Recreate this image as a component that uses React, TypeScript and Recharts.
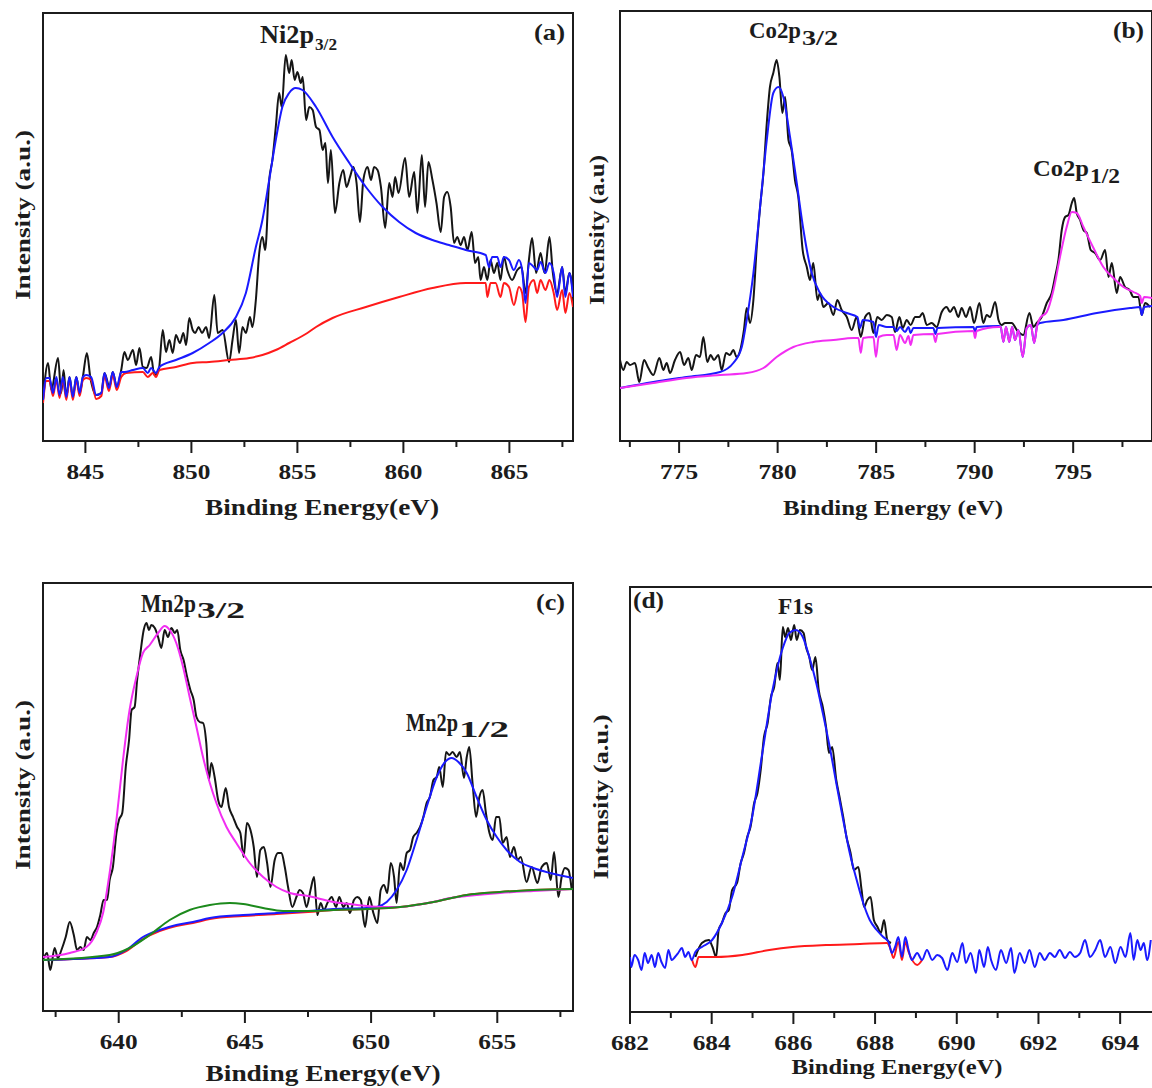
import { LineChart, Line, XAxis, YAxis, ReferenceArea } from "recharts";

// ---- (a) Ni 2p ----
const niRawE = [843.0, 843.24, 843.39, 843.71, 843.86, 843.97, 844.1, 844.25, 844.41, 844.57, 844.73, 844.88, 845.07, 845.23, 845.51, 845.75, 845.9, 846.14, 846.29, 846.48, 846.69, 846.84, 847.0, 847.24, 847.39, 847.55, 847.71, 847.89, 848.1, 848.25, 848.46, 848.65, 848.8, 848.96, 849.12, 849.27, 849.46, 849.62, 849.75, 849.9, 850.06, 850.18, 850.34, 850.5, 850.69, 850.84, 851.08, 851.24, 851.47, 851.78, 851.94, 852.1, 852.25, 852.41, 852.57, 852.76, 852.88, 853.04, 853.2, 853.35, 853.48, 853.67, 853.82, 853.98, 854.14, 854.26, 854.45, 854.61, 854.73, 854.87, 855.0, 855.16, 855.25, 855.41, 855.56, 855.72, 855.88, 856.04, 856.19, 856.32, 856.44, 856.58, 856.77, 856.98, 857.16, 857.32, 857.48, 857.64, 857.79, 857.95, 858.11, 858.31, 858.47, 858.62, 858.78, 858.94, 859.14, 859.33, 859.49, 859.61, 859.77, 860.08, 860.27, 860.51, 860.66, 860.87, 861.02, 861.18, 861.37, 861.56, 861.76, 861.92, 862.07, 862.23, 862.39, 862.54, 862.7, 862.86, 863.02, 863.22, 863.38, 863.53, 863.64, 863.8, 863.96, 864.11, 864.27, 864.43, 864.58, 864.74, 864.9, 865.13, 865.37, 865.57, 865.76, 865.92, 866.07, 866.26, 866.47, 866.66, 866.89, 867.05, 867.25, 867.49, 867.64, 867.83, 868.0];
const niRawI = [41, 78, 51, 83, 48, 71, 44, 64, 44, 64, 48, 64, 88, 64, 46, 48, 68, 54, 69, 54, 71, 89, 81, 91, 76, 93, 74, 73, 84, 66, 71, 111, 89, 101, 88, 106, 98, 108, 96, 123, 111, 108, 114, 108, 114, 103, 146, 108, 111, 79, 101, 121, 88, 114, 108, 124, 114, 141, 188, 204, 191, 261, 281, 314, 348, 334, 386, 368, 381, 361, 369, 358, 364, 321, 334, 331, 314, 311, 291, 298, 258, 291, 228, 258, 271, 254, 264, 274, 258, 219, 261, 274, 261, 274, 271, 254, 213, 258, 244, 264, 248, 283, 244, 269, 228, 286, 234, 279, 261, 238, 209, 244, 249, 234, 198, 204, 196, 204, 191, 209, 178, 184, 161, 174, 161, 181, 168, 178, 161, 184, 171, 161, 171, 174, 148, 181, 203, 168, 188, 168, 204, 168, 148, 174, 148, 168, 148];

const niFitE = [843.0, 843.16, 843.31, 843.47, 843.63, 843.78, 843.94, 844.1, 844.25, 844.41, 844.57, 844.73, 844.88, 845.04, 845.27, 845.51, 845.75, 845.9, 846.11, 846.29, 846.48, 846.69, 846.84, 847.24, 847.71, 847.94, 848.1, 848.33, 848.49, 849.27, 850.06, 850.84, 851.47, 852.1, 852.57, 853.04, 853.35, 853.67, 853.98, 854.29, 854.61, 854.92, 855.24, 855.88, 856.66, 857.45, 858.23, 859.02, 859.8, 860.58, 861.37, 862.15, 862.94, 863.88, 864.04, 864.19, 864.43, 864.58, 864.74, 864.98, 865.21, 865.45, 865.6, 865.76, 865.92, 866.15, 866.31, 866.47, 866.7, 866.89, 867.09, 867.25, 867.49, 867.64, 867.83, 868.0];
const niFitI = [41, 63, 63, 48, 64, 46, 64, 44, 64, 44, 64, 48, 64, 66, 64, 46, 48, 68, 53, 69, 54, 69, 69, 71, 73, 68, 73, 68, 74, 81, 88, 98, 108, 124, 148, 194, 221, 261, 301, 334, 348, 353, 351, 334, 304, 278, 254, 234, 219, 208, 201, 196, 191, 186, 174, 184, 184, 174, 184, 181, 171, 181, 171, 138, 178, 174, 171, 179, 168, 178, 168, 144, 174, 144, 168, 144];

const niBgE = [843.0, 843.16, 843.31, 843.47, 843.63, 843.78, 843.94, 844.1, 844.25, 844.41, 844.57, 844.73, 844.88, 845.04, 845.27, 845.51, 845.75, 845.9, 846.11, 846.29, 846.48, 846.69, 846.92, 847.71, 847.94, 848.18, 848.33, 848.49, 849.27, 850.06, 850.84, 851.78, 852.73, 853.35, 853.98, 854.61, 855.47, 855.88, 856.66, 858.23, 859.8, 861.37, 862.94, 863.88, 863.96, 864.11, 864.35, 864.58, 864.74, 864.98, 865.21, 865.45, 865.6, 865.76, 865.92, 866.15, 866.31, 866.47, 866.7, 866.89, 867.09, 867.25, 867.49, 867.64, 867.83, 868.0];
const niBgI = [38, 60, 60, 45, 61, 43, 61, 41, 61, 41, 61, 45, 61, 63, 61, 42, 45, 65, 50, 66, 51, 64, 68, 69, 64, 68, 64, 71, 74, 78, 79, 81, 83, 86, 91, 98, 108, 114, 123, 134, 144, 153, 158, 158, 144, 158, 158, 144, 158, 154, 136, 154, 148, 119, 154, 161, 148, 161, 151, 161, 148, 131, 151, 128, 148, 134];

// ---- (b) Co 2p ----
const coRawE = [772.0, 772.17, 772.34, 772.51, 772.76, 772.98, 773.22, 773.44, 773.69, 774.0, 774.2, 774.37, 774.54, 774.79, 775.05, 775.25, 775.47, 775.64, 775.86, 776.06, 776.23, 776.43, 776.6, 776.77, 776.99, 777.16, 777.38, 777.58, 777.75, 777.92, 778.13, 778.29, 778.43, 778.6, 778.77, 778.94, 779.11, 779.28, 779.45, 779.61, 779.78, 779.95, 780.09, 780.24, 780.38, 780.55, 780.71, 780.88, 781.05, 781.27, 781.48, 781.64, 781.81, 782.02, 782.15, 782.32, 782.58, 782.83, 783.03, 783.25, 783.51, 783.76, 784.01, 784.22, 784.44, 784.66, 784.86, 785.06, 785.28, 785.54, 785.79, 785.96, 786.18, 786.35, 786.55, 786.75, 786.98, 787.19, 787.36, 787.57, 787.82, 788.07, 788.33, 788.58, 788.75, 788.95, 789.17, 789.34, 789.56, 789.77, 789.97, 790.24, 790.44, 790.61, 790.78, 791.04, 791.21, 791.37, 791.54, 791.88, 792.14, 792.47, 792.78, 792.98, 793.15, 793.4, 793.66, 793.91, 794.08, 794.25, 794.42, 794.59, 794.76, 794.93, 795.05, 795.18, 795.35, 795.52, 795.69, 795.89, 796.11, 796.37, 796.62, 796.79, 796.96, 797.21, 797.38, 797.63, 797.86, 798.06, 798.31, 798.48, 798.65, 798.9];
const coRawI = [81, 71, 79, 76, 78, 59, 81, 73, 66, 83, 71, 78, 68, 81, 89, 76, 83, 71, 86, 84, 104, 79, 86, 81, 86, 71, 88, 86, 91, 84, 93, 111, 133, 118, 141, 194, 234, 268, 318, 354, 368, 381, 364, 328, 344, 301, 291, 261, 244, 191, 174, 161, 178, 141, 148, 134, 138, 126, 141, 131, 124, 111, 124, 104, 124, 128, 108, 124, 121, 126, 124, 109, 124, 113, 121, 116, 124, 124, 128, 116, 118, 114, 129, 134, 129, 134, 124, 133, 124, 134, 118, 138, 118, 126, 124, 139, 121, 116, 118, 118, 111, 106, 128, 114, 118, 124, 138, 148, 164, 181, 211, 224, 226, 238, 243, 228, 221, 211, 208, 191, 188, 181, 191, 164, 178, 148, 164, 154, 151, 144, 144, 126, 138, 134];

const coFitE = [772.0, 773.69, 775.38, 777.08, 777.75, 778.18, 778.43, 778.77, 779.11, 779.45, 779.78, 780.04, 780.29, 780.63, 780.97, 781.31, 781.73, 782.15, 782.83, 783.51, 784.05, 784.18, 784.32, 784.86, 784.99, 785.13, 785.54, 785.88, 786.04, 786.21, 786.47, 786.64, 786.75, 786.89, 787.9, 788.01, 788.11, 789.94, 790.02, 790.1, 791.21, 791.32, 791.46, 791.59, 791.76, 791.9, 792.05, 792.22, 792.44, 792.64, 792.85, 793.02, 793.18, 793.32, 794.5, 796.2, 797.89, 798.4, 798.48, 798.6, 799.0];
const coFitI = [53, 59, 64, 69, 78, 94, 121, 168, 234, 301, 348, 354, 344, 304, 258, 211, 168, 148, 134, 128, 124, 113, 121, 119, 104, 116, 114, 114, 110, 114, 109, 114, 108, 113, 113, 107, 113, 114, 109, 114, 115, 114, 99, 114, 99, 114, 101, 111, 84, 113, 116, 98, 116, 118, 121, 128, 133, 134, 126, 134, 135];

const coFit2E = [772.0, 773.69, 775.38, 777.08, 778.43, 779.28, 779.95, 780.8, 781.81, 782.83, 783.84, 784.1, 784.22, 784.34, 784.86, 784.99, 785.13, 785.54, 785.88, 786.04, 786.21, 786.47, 786.64, 786.75, 786.89, 787.9, 788.01, 788.11, 789.94, 790.02, 790.1, 791.21, 791.32, 791.46, 791.59, 791.76, 791.9, 792.05, 792.22, 792.44, 792.64, 792.85, 793.02, 793.18, 793.32, 793.66, 794.0, 794.33, 794.67, 794.93, 795.18, 795.52, 796.03, 796.53, 797.04, 797.55, 798.06, 798.4, 798.48, 798.6, 799.0];
const coFit2I = [53, 58, 63, 66, 68, 73, 84, 94, 99, 101, 103, 103, 88, 103, 104, 84, 104, 106, 106, 91, 106, 98, 105, 96, 106, 107, 99, 107, 110, 103, 110, 114, 114, 99, 114, 99, 114, 101, 111, 84, 113, 116, 98, 116, 123, 129, 151, 184, 214, 229, 228, 214, 193, 174, 163, 154, 149, 145, 138, 144, 143];

// ---- (c) Mn 2p ----
const mnRawE = [637.0, 637.16, 637.29, 637.46, 637.59, 637.73, 637.9, 638.06, 638.22, 638.35, 638.48, 638.61, 638.74, 638.88, 639.01, 639.14, 639.27, 639.4, 639.54, 639.64, 639.77, 639.91, 640.01, 640.14, 640.28, 640.41, 640.51, 640.63, 640.73, 640.86, 640.99, 641.1, 641.2, 641.29, 641.43, 641.56, 641.69, 641.82, 641.95, 642.09, 642.22, 642.32, 642.44, 642.57, 642.71, 642.84, 642.97, 643.08, 643.21, 643.34, 643.47, 643.57, 643.67, 643.8, 643.94, 644.07, 644.24, 644.37, 644.53, 644.69, 644.82, 644.95, 645.08, 645.22, 645.35, 645.48, 645.61, 645.75, 645.88, 646.01, 646.18, 646.31, 646.45, 646.58, 646.71, 646.88, 647.04, 647.17, 647.3, 647.44, 647.6, 647.74, 647.87, 648.0, 648.13, 648.27, 648.44, 648.61, 648.74, 648.9, 649.03, 649.16, 649.32, 649.45, 649.59, 649.76, 649.93, 650.09, 650.25, 650.38, 650.51, 650.64, 650.78, 650.91, 651.01, 651.15, 651.28, 651.41, 651.54, 651.67, 651.8, 651.94, 652.07, 652.2, 652.33, 652.47, 652.6, 652.7, 652.84, 652.97, 653.1, 653.23, 653.39, 653.52, 653.68, 653.79, 653.89, 654.02, 654.16, 654.29, 654.42, 654.55, 654.69, 654.82, 654.95, 655.08, 655.21, 655.37, 655.5, 655.66, 655.8, 655.93, 656.16, 656.36, 656.59, 656.76, 656.96, 657.12, 657.25, 657.42, 657.55, 657.68, 657.82, 657.95];
const mnRawI = [51, 58, 41, 63, 53, 61, 74, 89, 76, 61, 64, 61, 74, 71, 78, 84, 96, 111, 111, 131, 144, 178, 191, 198, 244, 271, 301, 304, 331, 358, 381, 388, 381, 386, 383, 374, 363, 381, 374, 383, 378, 381, 361, 351, 334, 321, 311, 294, 289, 288, 268, 231, 248, 234, 211, 204, 223, 204, 194, 184, 178, 154, 188, 181, 164, 134, 161, 164, 148, 124, 151, 158, 158, 144, 124, 104, 114, 121, 118, 104, 121, 134, 96, 108, 101, 108, 114, 104, 114, 104, 108, 98, 111, 114, 111, 84, 114, 98, 88, 121, 126, 118, 148, 134, 108, 148, 141, 158, 161, 174, 178, 184, 194, 208, 214, 231, 234, 244, 224, 259, 256, 259, 254, 259, 233, 254, 264, 228, 194, 214, 221, 198, 178, 171, 194, 194, 168, 174, 154, 164, 151, 154, 129, 144, 128, 144, 148, 131, 159, 114, 134, 143, 141, 121];

const mnBgE = [637.0, 639.64, 640.3, 640.96, 641.62, 642.28, 642.94, 643.61, 644.93, 646.25, 647.5, 648.5, 649.82, 651.15, 652.47, 653.79, 655.11, 656.43, 658.0];
const mnBgI = [51, 54, 60, 72, 80, 85, 88, 92, 95, 97, 99, 101, 102, 104, 109, 116, 119, 121, 122];

const mnFit2E = [637.0, 639.64, 640.3, 640.96, 641.62, 642.28, 642.94, 643.61, 644.93, 646.25, 647.5, 648.5, 649.82, 650.22, 650.62, 651.01, 651.41, 651.8, 652.2, 652.6, 652.93, 653.19, 653.46, 653.79, 654.18, 654.58, 654.98, 655.37, 655.9, 656.43, 657.09, 658.0];
const mnFit2I = [51, 54, 61, 74, 81, 86, 89, 93, 96, 98, 100, 102, 103, 104, 109, 121, 141, 171, 204, 234, 249, 253, 249, 238, 214, 191, 174, 161, 149, 143, 138, 133];

const mnFit1E = [637.0, 638.06, 638.72, 639.11, 639.38, 639.64, 639.91, 640.17, 640.43, 640.7, 640.96, 641.23, 641.56, 641.82, 642.02, 642.28, 642.55, 642.81, 643.08, 643.34, 643.61, 643.87, 644.27, 644.66, 645.19, 645.72, 646.25, 646.78, 647.5, 648.5, 649.16, 649.82, 650.48, 651.15, 651.8, 652.47, 653.13, 653.79, 655.11, 656.43, 658.0];
const mnFit1I = [54, 58, 64, 78, 98, 138, 191, 251, 301, 334, 358, 366, 378, 385, 381, 368, 344, 314, 284, 254, 228, 208, 184, 168, 148, 134, 124, 118, 115, 109, 107, 105, 104, 104, 106, 109, 113, 115, 118, 120, 122];

const mnSatE = [637.0, 639.64, 640.43, 641.23, 642.02, 642.81, 643.61, 644.4, 644.93, 645.72, 646.51, 647.5, 648.5, 649.82, 651.15, 652.47, 653.79, 655.11, 656.43, 658.0];
const mnSatI = [51, 56, 63, 76, 91, 101, 106, 108, 107, 103, 100, 100, 101, 102, 104, 109, 116, 119, 121, 122];

// ---- (d) F 1s ----
const fRawE = [683.6, 683.76, 683.93, 684.02, 684.11, 684.17, 684.25, 684.34, 684.42, 684.5, 684.62, 684.71, 684.79, 684.87, 684.95, 685.04, 685.12, 685.2, 685.28, 685.37, 685.45, 685.53, 685.61, 685.67, 685.74, 685.8, 685.87, 685.94, 686.02, 686.08, 686.16, 686.25, 686.31, 686.39, 686.46, 686.54, 686.62, 686.72, 686.8, 686.87, 686.95, 687.05, 687.13, 687.22, 687.3, 687.4, 687.48, 687.59, 687.67, 687.73, 687.81, 687.89, 687.97, 688.06, 688.14, 688.22, 688.3, 688.39];
const fRawI = [55, 69, 72, 65, 55, 82, 89, 99, 102, 122, 129, 149, 159, 175, 185, 209, 219, 242, 275, 289, 315, 325, 349, 332, 385, 375, 384, 372, 387, 372, 382, 379, 365, 355, 342, 355, 322, 305, 285, 259, 265, 232, 215, 195, 175, 159, 142, 145, 122, 105, 112, 115, 92, 85, 79, 92, 72, 69];

const fBgE = [683.52, 683.6, 683.68, 684.09, 684.75, 685.41, 685.98, 686.8, 687.63, 688.29, 688.37, 688.45, 688.57, 688.66, 688.74, 688.82, 689.03, 689.15];
const fBgI = [52, 45, 55, 55, 57, 62, 65, 67, 68, 69, 64, 54, 70, 52, 70, 60, 47, 52];

const fFitE = [682.0, 682.03, 682.11, 682.2, 682.28, 682.36, 682.44, 682.53, 682.61, 682.69, 682.77, 682.86, 682.94, 683.02, 683.1, 683.18, 683.27, 683.35, 683.43, 683.51, 683.6, 683.76, 684.01, 684.25, 684.5, 684.75, 684.99, 685.24, 685.49, 685.74, 685.9, 686.06, 686.23, 686.39, 686.56, 686.72, 686.89, 687.05, 687.22, 687.38, 687.55, 687.71, 687.87, 688.04, 688.2, 688.33, 688.41, 688.49, 688.57, 688.66, 688.74, 688.82, 688.9, 689.03, 689.15, 689.27, 689.4, 689.52, 689.64, 689.77, 689.89, 690.01, 690.14, 690.22, 690.34, 690.47, 690.55, 690.67, 690.76, 690.84, 690.96, 691.08, 691.21, 691.33, 691.41, 691.54, 691.66, 691.78, 691.91, 692.03, 692.15, 692.28, 692.4, 692.52, 692.65, 692.77, 692.89, 693.02, 693.14, 693.26, 693.39, 693.51, 693.63, 693.76, 693.88, 694.01, 694.13, 694.25, 694.33, 694.42, 694.5, 694.58, 694.66, 694.75];
const fFitI = [55, 45, 57, 52, 42, 59, 49, 57, 45, 59, 50, 44, 62, 52, 55, 59, 64, 55, 60, 52, 60, 65, 72, 89, 115, 155, 195, 259, 322, 364, 379, 382, 375, 355, 329, 299, 265, 229, 192, 159, 132, 109, 92, 82, 75, 70, 59, 65, 75, 55, 75, 62, 52, 59, 52, 62, 52, 57, 54, 42, 59, 50, 69, 49, 59, 39, 62, 45, 65, 52, 42, 62, 49, 64, 39, 59, 49, 62, 45, 59, 52, 59, 55, 62, 54, 60, 55, 59, 72, 55, 62, 72, 55, 65, 49, 65, 55, 79, 52, 72, 62, 69, 52, 72];

// axis ticks
const niMajor = [845, 850, 855, 860, 865];
const niMinor = [847.5, 852.5, 857.5, 862.5, 867.5];
const coMajor = [775, 780, 785, 790, 795];
const coMinor = [772.5, 777.5, 782.5, 787.5, 792.5, 797.5];
const mnMajor = [640, 645, 650, 655];
const mnMinor = [637.5, 642.5, 647.5, 652.5, 657.5];
const fMajor = [682, 684, 686, 688, 690, 692, 694];
const fMinor = [683, 685, 687, 689, 691, 693];

const FONT = "Liberation Serif, serif";
const INK = "#1c1c1c";
const PAD = 30;

const pts = (es: number[], vs: number[]) => es.map((e, i) => ({ e, v: vs[i] }));

type Series = { e: number[]; v: number[]; color: string };

function Panel({ left, top, width, height, domain, major, minor, series }: {
  left: number; top: number; width: number; height: number;
  domain: [number, number]; major: number[]; minor: number[]; series: Series[];
}) {
  const ticks = [...major, ...minor].sort((a, b) => a - b);
  const renderTick = (p: any) => {
    const isMajor = major.includes(p.payload.value);
    return (
      <g>
        <line x1={p.x} x2={p.x} y1={p.y} y2={p.y + (isMajor ? 12 : 6)} stroke={INK} strokeWidth={2} />
        {isMajor && (
          <text x={p.x} y={p.y + 38} textAnchor="middle" fontFamily={FONT} fontWeight={700} fontSize={21}
            fill={INK} textLength={38} lengthAdjust="spacingAndGlyphs">
            {p.payload.value}
          </text>
        )}
      </g>
    );
  };
  return (
    <div style={{ position: "absolute", left: left - PAD, top: top - PAD }}>
      <LineChart width={width + 2 * PAD} height={height + PAD + 60} margin={{ top: PAD, left: PAD, right: PAD, bottom: 0 }}>
        <XAxis type="number" dataKey="e" domain={domain} ticks={ticks} interval={0} allowDataOverflow
          tickLine={false} axisLine={false} tickSize={0} tickMargin={0} height={60} tick={renderTick} />
        <YAxis hide type="number" domain={[0, height]} allowDataOverflow />
        <ReferenceArea x1={domain[0]} x2={domain[1]} y1={0} y2={height} fill="none" fillOpacity={0}
          stroke={INK} strokeWidth={2} ifOverflow="visible" />
        {series.map((s, i) => (
          <Line key={i} data={pts(s.e, s.v)} dataKey="v" type="monotone" stroke={s.color} strokeWidth={2}
            dot={false} activeDot={false} isAnimationActive={false} />
        ))}
      </LineChart>
    </div>
  );
}

const BLACK = "#151515";
const BLUE = "#1a1aff";
const RED = "#ff1a1a";
const MAGENTA = "#f22ef2";
const GREEN = "#1c8a1c";

// peak label: one text, main part plus a lowered subscript tspan
function Peak({ x, y, main, mainW, size, sub, subDy, subW, subSize }: any) {
  return (
    <text x={x} y={y} fontFamily={FONT} fontWeight={700} fill={INK}>
      <tspan fontSize={size} textLength={mainW} lengthAdjust="spacingAndGlyphs">{main}</tspan>
      {sub && (
        <tspan x={x + mainW + 1} dy={subDy} fontSize={subSize} textLength={subW} lengthAdjust="spacingAndGlyphs">{sub}</tspan>
      )}
    </text>
  );
}

function Txt({ x, y, w, size, children, anchor = "start", rot = false }: any) {
  return (
    <text transform={`translate(${x},${y})${rot ? " rotate(-90)" : ""}`} textAnchor={anchor}
      fontFamily={FONT} fontWeight={700} fontSize={size} fill={INK} textLength={w} lengthAdjust="spacingAndGlyphs">
      {children}
    </text>
  );
}

export default function App() {
  return (
    <div style={{ position: "fixed", left: 0, top: 0, width: 1152, height: 1088, overflow: "hidden", background: "#fff" }}>
      <Panel left={43} top={13} width={530} height={428} domain={[843, 868]} major={niMajor} minor={niMinor}
        series={[
          { e: niRawE, v: niRawI, color: BLACK },
          { e: niBgE, v: niBgI, color: RED },
          { e: niFitE, v: niFitI, color: BLUE },
        ]} />
      <Panel left={620} top={11} width={532} height={430} domain={[772, 799]} major={coMajor} minor={coMinor}
        series={[
          { e: coRawE, v: coRawI, color: BLACK },
          { e: coFitE, v: coFitI, color: BLUE },
          { e: coFit2E, v: coFit2I, color: MAGENTA },
        ]} />
      <Panel left={43} top={583} width={530} height={428} domain={[637, 658]} major={mnMajor} minor={mnMinor}
        series={[
          { e: mnRawE, v: mnRawI, color: BLACK },
          { e: mnBgE, v: mnBgI, color: RED },
          { e: mnFit2E, v: mnFit2I, color: BLUE },
          { e: mnFit1E, v: mnFit1I, color: MAGENTA },
          { e: mnSatE, v: mnSatI, color: GREEN },
        ]} />
      <Panel left={630} top={587} width={531} height={425} domain={[682, 695]} major={fMajor} minor={fMinor}
        series={[
          { e: fRawE, v: fRawI, color: BLACK },
          { e: fBgE, v: fBgI, color: RED },
          { e: fFitE, v: fFitI, color: BLUE },
        ]} />

      <svg width={1152} height={1088} style={{ position: "absolute", left: 0, top: 0, pointerEvents: "none" }}>
        <Peak x={260} y={43} main="Ni2p" mainW={54} size={26} sub="3/2" subDy={7} subW={22} subSize={17} />
        <Peak x={749} y={38} main="Co2p" mainW={52} size={24} sub="3/2" subDy={7} subW={36} subSize={21} />
        <Peak x={1033} y={176} main="Co2p" mainW={56} size={24} sub="1/2" subDy={7} subW={30} subSize={21} />
        <Peak x={141} y={612} main="Mn2p" mainW={55} size={26} sub="3/2" subDy={6} subW={48} subSize={23} />
        <Peak x={406} y={731} main="Mn2p" mainW={52} size={26} sub="1/2" subDy={6} subW={50} subSize={23} />
        <Peak x={778} y={614} main="F1s" mainW={35} size={24} />

        <Txt x={565} y={40} w={31} size={24} anchor="end">(a)</Txt>
        <Txt x={1144} y={38} w={31} size={24} anchor="end">(b)</Txt>
        <Txt x={565} y={610} w={29} size={24} anchor="end">(c)</Txt>
        <Txt x={633} y={608} w={31} size={24}>(d)</Txt>

        <Txt x={322} y={515} w={234} size={23} anchor="middle">Binding Energy(eV)</Txt>
        <Txt x={893} y={515} w={220} size={21} anchor="middle">Binding Energy (eV)</Txt>
        <Txt x={323} y={1081} w={235} size={23} anchor="middle">Binding Energy(eV)</Txt>
        <Txt x={897} y={1074} w={211} size={21} anchor="middle">Binding Energy(eV)</Txt>

        <Txt x={30} y={215} w={170} size={22} anchor="middle" rot>Intensity (a.u.)</Txt>
        <Txt x={604} y={230} w={150} size={21} anchor="middle" rot>Intensity (a.u)</Txt>
        <Txt x={30} y={785} w={170} size={22} anchor="middle" rot>Intensity (a.u.)</Txt>
        <Txt x={608} y={797} w={165} size={21} anchor="middle" rot>Intensity (a.u.)</Txt>
      </svg>
    </div>
  );
}
